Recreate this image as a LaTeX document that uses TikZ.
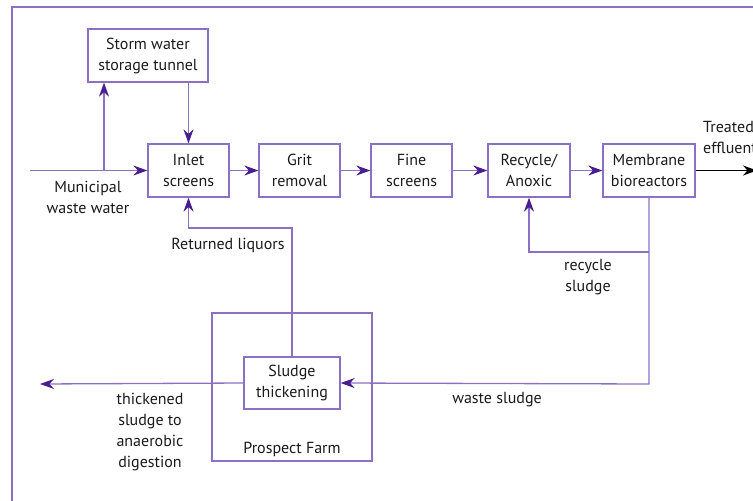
\documentclass[tikz,border=0pt]{standalone}
\usepackage{fontspec}
\setmainfont{PT Sans}
\usetikzlibrary{arrows.meta}
\definecolor{lav}{HTML}{8C70C4}
\definecolor{dpur}{HTML}{4A1E8E}
\definecolor{txt}{HTML}{1A1A1A}
\tikzset{
  box/.style={draw=lav, line width=1.3pt, minimum height=53pt, align=center, inner sep=1pt, text=txt, font=\fontsize{16}{21}\selectfont},
  lbl/.style={align=center, inner sep=0pt, text=txt, font=\fontsize{16}{21}\selectfont},
  arr/.style={draw=lav, line width=1.3pt, -{Stealth[length=14pt,width=10pt,color=dpur]}},
  ln/.style={draw=lav, line width=1.3pt},
}
\begin{document}
\begin{tikzpicture}[x=1pt,y=-1pt]
\useasboundingbox (0,0) rectangle (753,501);
\draw[ln] (12,510) -- (12,7) -- (760,7);
% nodes
\node[box, minimum width=120pt] (storm) at (148,55.5) {Storm water\\storage tunnel};
\node[box, minimum width=81pt] (inlet) at (188.5,170.5) {Inlet\\screens};
\node[box, minimum width=81pt] (grit) at (299.5,170.5) {Grit\\removal};
\node[box, minimum width=81pt] (fine) at (411.5,170.5) {Fine\\screens};
\node[box, minimum width=82pt] (recyc) at (529,170.5) {Recycle/\\Anoxic};
\node[box, minimum width=92pt, text width=90pt] (memb) at (649,170.5) {Membrane\\bioreactors};
\node[box, minimum width=96pt, minimum height=52pt] (sludge) at (292,383) {Sludge\\thickening};
\node[draw=lav, line width=1.3pt, minimum width=160pt, minimum height=148pt, inner sep=0pt] (farm) at (292,387) {};
% coordinates
\coordinate (src) at (30,170.5);
\coordinate (split) at (104,170.5);
\coordinate (out) at (757,170.5);
\coordinate (wcorner) at (649,384);
\coordinate (rcorner) at (649,252);
\coordinate (lcorner) at (292,228);
\coordinate (dig) at (40,384);
% connectors
\draw[arr] (src) -- (inlet.west);
\draw[arr] (split) -- (split |- storm.south);
\draw[arr] (storm.south -| inlet.north) -- (inlet.north);
\draw[arr] (inlet) -- (grit);
\draw[arr] (grit) -- (fine);
\draw[arr] (fine) -- (recyc);
\draw[arr] (recyc) -- (memb);
\draw[line width=1.3pt, -{Stealth[length=14pt,width=10pt]}] (memb.east) -- (out);
\draw[arr] (memb.south) -- (wcorner) -- (sludge.east);
\draw[arr] (rcorner) -| (recyc.south);
\draw[arr] (sludge.north) -- (lcorner) -| (inlet.south);
\draw[arr] (sludge.west) -- (dig);
% labels
\node[lbl] (l1) at (88,197.5) {Municipal\\waste water};
\node[lbl] (l2) at (228,245) {Returned liquors};
\node[lbl] (l3) at (588,277.5) {recycle\\sludge};
\node[lbl] (l4) at (497,400) {waste sludge};
\node[lbl] (l5) at (150,432) {thickened\\sludge to\\anaerobic\\digestion};
\node[lbl] (l6) at (292,449) {Prospect Farm};
\node[lbl, align=left, anchor=west] (l7) at (703,137) {Treated\\effluent};
\end{tikzpicture}
\end{document}
